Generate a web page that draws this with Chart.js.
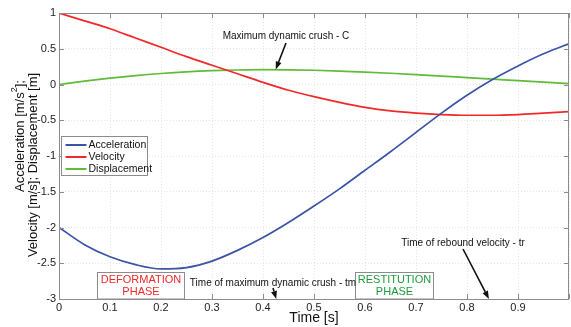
<!DOCTYPE html>
<html>
<head>
<meta charset="utf-8">
<script src="https://cdn.jsdelivr.net/npm/chart.js@4/dist/chart.umd.min.js"></script>
<style>
  html, body { margin: 0; padding: 0; background: #fff; }
  canvas { display: block; }
</style>
</head>
<body>
<canvas id="chart" width="571" height="327"></canvas>
<script>
// values
const time = [0, 0.05, 0.1, 0.15, 0.2, 0.25, 0.3, 0.35, 0.4, 0.45, 0.5,
              0.55, 0.6, 0.65, 0.7, 0.75, 0.8, 0.85, 0.9, 0.95, 1.0];
const acceleration = [-2.00, -2.24, -2.41, -2.52, -2.58, -2.56, -2.47, -2.32, -2.14, -1.93, -1.70,
                      -1.46, -1.20, -0.94, -0.67, -0.40, -0.15, 0.07, 0.26, 0.43, 0.57];
const velocity = [1.00, 0.89, 0.78, 0.65, 0.52, 0.39, 0.27, 0.15, 0.03, -0.08, -0.17,
                  -0.25, -0.32, -0.37, -0.40, -0.42, -0.43, -0.43, -0.42, -0.40, -0.38];
const displacement = [0.00, 0.047, 0.089, 0.125, 0.154, 0.177, 0.193, 0.203, 0.207, 0.205, 0.199,
                      0.188, 0.174, 0.157, 0.138, 0.118, 0.096, 0.075, 0.053, 0.033, 0.013];
// first y title line is split so the "2" can be drawn as a superscript
const yTitle1 = ['Acceleration [m/s', '2', '];'];
const yTitle2 = 'Velocity [m/s]; Displacement [m]';
const xTitle = 'Time [s]';

const series = [
    { label: 'Acceleration', values: acceleration, color: '#3a54a6' },
    { label: 'Velocity', values: velocity, color: '#f2292b' },
    { label: 'Displacement', values: displacement, color: '#62bb38' },
];

// annotation text + arrow tips (data coords)
const notes = [
    { text: 'Maximum dynamic crush - C', tx: 286, ty: 36, tip: [0.425, 0.21], tail: [286, 43] },
    { text: 'Time of maximum dynamic crush - tm', tx: 273, ty: 283, tip: [0.426, -3], tail: [273, 288] },
    { text: 'Time of rebound velocity - tr', tx: 463, ty: 243, tip: [0.843, -3], tail: [463, 249] },
];
const phases = [
    { lines: ['DEFORMATION', 'PHASE'], color: '#f2292b', from: 0.075, to: 0.245 },
    { lines: ['RESTITUTION', 'PHASE'], color: '#1e9a3c', from: 0.58, to: 0.734 },
];

const FONT = '"Liberation Sans", Arial, sans-serif';

function arrow(ctx, x1, y1, x2, y2) {
    const a = Math.atan2(y2 - y1, x2 - x1);
    const h = 8, w = 3;
    ctx.beginPath();
    ctx.moveTo(x1, y1);
    ctx.lineTo(x2 - Math.cos(a) * h, y2 - Math.sin(a) * h);
    ctx.stroke();
    ctx.beginPath();
    ctx.moveTo(x2, y2);
    ctx.lineTo(x2 - Math.cos(a) * h - Math.sin(a) * w, y2 - Math.sin(a) * h + Math.cos(a) * w);
    ctx.lineTo(x2 - Math.cos(a) * h + Math.sin(a) * w, y2 - Math.sin(a) * h - Math.cos(a) * w);
    ctx.closePath();
    ctx.fill();
}

const decor = {
    id: 'decor',
    afterDatasetsDraw(chart) {
        const { ctx, chartArea: ca, scales } = chart;
        const xs = scales.x, ys = scales.y;
        ctx.save();

        // box + inward ticks (matlab style)
        ctx.strokeStyle = '#8c8c8c';
        ctx.lineWidth = 1;
        ctx.strokeRect(ca.left + 0.5, ca.top + 0.5, ca.right - ca.left - 1, ca.bottom - ca.top);
        ctx.beginPath();
        for (let v = 0; v <= 1.0001; v += 0.1) {
            const px = Math.round(xs.getPixelForValue(v)) + 0.5;
            ctx.moveTo(px, ca.bottom); ctx.lineTo(px, ca.bottom - 5);
            ctx.moveTo(px, ca.top); ctx.lineTo(px, ca.top + 5);
        }
        for (let v = -3; v <= 1.0001; v += 0.5) {
            const py = Math.round(ys.getPixelForValue(v)) + 0.5;
            ctx.moveTo(ca.left, py); ctx.lineTo(ca.left + 5, py);
            ctx.moveTo(ca.right, py); ctx.lineTo(ca.right - 5, py);
        }
        ctx.stroke();

        // y title, two rotated lines
        ctx.fillStyle = '#111';
        ctx.textBaseline = 'middle';
        ctx.textAlign = 'left';
        ctx.save();
        ctx.translate(20, 136);
        ctx.rotate(-Math.PI / 2);
        ctx.font = '13px ' + FONT;
        const w0 = ctx.measureText(yTitle1[0]).width;
        const w2 = ctx.measureText(yTitle1[2]).width;
        ctx.font = '9px ' + FONT;
        const w1 = ctx.measureText(yTitle1[1]).width;
        let sx = -(w0 + w1 + w2) / 2;
        ctx.font = '13px ' + FONT;
        ctx.fillText(yTitle1[0], sx, 0);
        ctx.font = '9px ' + FONT;
        ctx.fillText(yTitle1[1], sx + w0, -5);
        ctx.font = '13px ' + FONT;
        ctx.fillText(yTitle1[2], sx + w0 + w1, 0);
        ctx.restore();
        ctx.save();
        ctx.translate(33, 165);
        ctx.rotate(-Math.PI / 2);
        ctx.font = '13px ' + FONT;
        ctx.textAlign = 'center';
        ctx.fillText(yTitle2, 0, 0);
        ctx.restore();

        // phase boxes
        phases.forEach(p => {
            const l = Math.round(xs.getPixelForValue(p.from)) + 0.5;
            const r = Math.round(xs.getPixelForValue(p.to)) + 0.5;
            const t = 272.5, b = ca.bottom;
            ctx.fillStyle = '#fff';
            ctx.fillRect(l, t, r - l, b - t);
            ctx.strokeStyle = '#8c8c8c';
            ctx.strokeRect(l, t, r - l, b - t);
            ctx.fillStyle = p.color;
            ctx.font = '11px ' + FONT;
            ctx.textAlign = 'center';
            ctx.textBaseline = 'middle';
            ctx.fillText(p.lines[0], (l + r) / 2, 280);
            ctx.fillText(p.lines[1], (l + r) / 2, 292);
        });

        // notes + arrows
        ctx.fillStyle = '#111';
        ctx.strokeStyle = '#111';
        ctx.lineWidth = 1.6;
        ctx.font = '10px ' + FONT;
        ctx.textAlign = 'center';
        ctx.textBaseline = 'middle';
        notes.forEach(n => {
            ctx.fillText(n.text, n.tx, n.ty);
            arrow(ctx, n.tail[0], n.tail[1], xs.getPixelForValue(n.tip[0]), ys.getPixelForValue(n.tip[1]));
        });

        // legend inside the axes
        const lx = 61.5, ly = 136.5, lw = 86, lh = 39;
        ctx.fillStyle = '#fff';
        ctx.fillRect(lx, ly, lw, lh);
        ctx.strokeStyle = '#8c8c8c';
        ctx.lineWidth = 1;
        ctx.strokeRect(lx, ly, lw, lh);
        ctx.font = '10.5px ' + FONT;
        ctx.textAlign = 'left';
        chart.data.datasets.forEach((ds, i) => {
            const yy = ly + 8.5 + i * 12;
            ctx.strokeStyle = ds.borderColor;
            ctx.lineWidth = 2;
            ctx.beginPath();
            ctx.moveTo(lx + 4, yy); ctx.lineTo(lx + 25, yy);
            ctx.stroke();
            ctx.fillStyle = '#111';
            ctx.fillText(ds.label, lx + 27, yy + 0.5);
        });
        ctx.restore();
    }
};

new Chart(document.getElementById('chart'), {
    type: 'line',
    data: {
        datasets: series.map(s => ({
            label: s.label,
            data: time.map((t, i) => ({ x: t, y: s.values[i] })),
            borderColor: s.color,
            backgroundColor: s.color,
            borderWidth: 1.7,
            pointRadius: 0,
            cubicInterpolationMode: 'monotone',
            fill: false,
        }))
    },
    options: {
        responsive: false,
        animation: false,
        devicePixelRatio: 1,
        layout: { padding: { top: 13, right: 1, left: 0, bottom: 0 } },
        plugins: { legend: { display: false }, tooltip: { enabled: false } },
        scales: {
            x: {
                type: 'linear',
                min: 0,
                max: 1,
                afterFit: s => { s.height = 28; },
                ticks: {
                    stepSize: 0.1,
                    autoSkip: false,
                    color: '#222',
                    font: { family: FONT, size: 11 },
                    padding: 2,
                    maxRotation: 0,
                    callback: v => v >= 0.999 ? '' : String(Math.round(v * 10) / 10),
                },
                grid: { color: '#e6e6e6', drawTicks: false },
                border: { display: false, dash: [1, 2] },
                title: {
                    display: true,
                    text: xTitle,
                    color: '#111',
                    font: { family: FONT, size: 14 },
                    padding: { top: 0, bottom: 0 },
                },
            },
            y: {
                min: -3,
                max: 1,
                afterFit: s => { s.width = 59; },
                ticks: {
                    stepSize: 0.5,
                    autoSkip: false,
                    color: '#222',
                    font: { family: FONT, size: 11 },
                    padding: 3,
                    callback: v => String(Math.round(v * 10) / 10),
                },
                grid: { color: '#e6e6e6', drawTicks: false },
                border: { display: false, dash: [1, 2] },
                title: { display: false },
            },
        },
    },
    plugins: [decor],
});
</script>
</body>
</html>
